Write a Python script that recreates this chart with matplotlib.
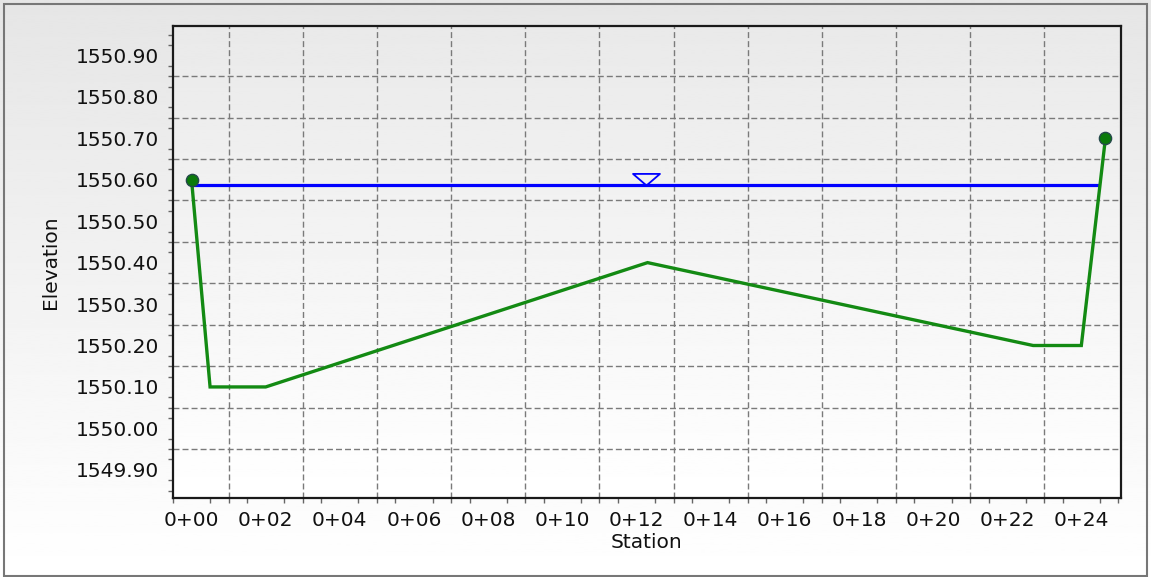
import numpy as np
import matplotlib
matplotlib.use('Agg')
import matplotlib.pyplot as plt
from matplotlib.path import Path
from matplotlib.patches import Rectangle

# cross section points (station, elevation)
station = [0.0, 0.5, 2.0, 12.3, 22.7, 24.0, 24.65]
elevation = [1550.60, 1550.10, 1550.10, 1550.40, 1550.20, 1550.20, 1550.70]
water_elev = 1550.587

x_tick_vals = list(range(0, 25, 2))
x_tick_labels = ['0+%02d' % v for v in x_tick_vals]
y_tick_vals = [1549.90 + 0.1 * i for i in range(11)]
y_tick_labels = ['%.2f' % v for v in y_tick_vals]


def water_edges(xs, ys, level):
    # stations where the water surface meets the section
    hits = []
    for i in range(len(xs) - 1):
        y0, y1 = ys[i], ys[i + 1]
        if (y0 - level) * (y1 - level) <= 0 and y0 != y1:
            t = (level - y0) / (y1 - y0)
            hits.append(xs[i] + t * (xs[i + 1] - xs[i]))
    return hits[0], hits[-1]


plt.rcParams['font.family'] = 'DejaVu Sans'
fig = plt.figure(figsize=(11.51, 5.77), dpi=100)

# gradient background for the whole window
bg = fig.add_axes([0, 0, 1, 1], zorder=-10)
grad = np.linspace(0.90, 1.0, 256).reshape(-1, 1)
bg.imshow(grad, cmap='gray', vmin=0, vmax=1, aspect='auto', extent=[0, 1, 0, 1], origin='upper')
bg.set_axis_off()
fig.patches.append(Rectangle((4 / 1151, 1 / 577), 1143 / 1151, 572 / 577, transform=fig.transFigure,
                             fill=False, edgecolor='#777777', linewidth=1.5))

ax = fig.add_axes([173 / 1151, 1 - 498 / 577, 948 / 1151, 472 / 577])
ax.set_facecolor('none')
ax.imshow(np.linspace(0.915, 1.0, 256).reshape(-1, 1), cmap='gray', vmin=0, vmax=1, aspect='auto',
          extent=[0, 1, 0, 1], origin='upper', transform=ax.transAxes, zorder=0)

ax.set_xlim(-0.5, 25.07)
ax.set_ylim(1549.832, 1550.971)

# dashed grid sits between the labelled values
for s in range(1, 24, 2):
    ax.axvline(s, color='#7a7a7a', lw=1, ls=(0, (4.3, 2.2)), zorder=1)
for e in np.arange(1549.95, 1550.86, 0.1):
    ax.axhline(e, color='#7a7a7a', lw=1, ls=(0, (4.3, 2.2)), zorder=1)

# water surface
left, right = water_edges(station, elevation, water_elev)
ax.plot([left, right], [water_elev, water_elev], color='#0000ff', lw=2.3, zorder=3,
        solid_capstyle='butt')
tri = Path([(-1, 0.86), (1, 0.86), (0, 0), (-1, 0.86)],
           [Path.MOVETO, Path.LINETO, Path.LINETO, Path.CLOSEPOLY])
ax.plot([(left + right) / 2], [water_elev], marker=tri, markersize=19.4, markerfacecolor='none',
        markeredgecolor='#0000ff', markeredgewidth=1.3, ls='none', zorder=4)

# ground line with bank points
ax.plot(station, elevation, color='#138a13', lw=2.4, zorder=5, solid_joinstyle='miter')
ax.plot([station[0], station[-1]], [elevation[0], elevation[-1]], 'o', markersize=8.8,
        markerfacecolor='#0b7a0b', markeredgecolor='#24484a', markeredgewidth=1.0, zorder=6)

ax.set_xticks(x_tick_vals)
ax.set_xticklabels(x_tick_labels)
ax.set_yticks(y_tick_vals)
ax.set_yticklabels(y_tick_labels)
x_minor = [v for v in np.arange(-0.5, 25.01, 0.5) if not (abs(v - round(v)) < 1e-6 and round(v) % 2 == 0)]
y_minor = [v for v in np.arange(1549.85, 1550.96, 0.025)
           if abs(v * 10 - round(v * 10)) > 1e-4]
ax.set_xticks(x_minor, minor=True)
ax.set_yticks(y_minor, minor=True)
ax.tick_params(which='major', length=0, labelsize=14.5, labelcolor='#111111')
ax.tick_params(axis='y', which='major', pad=10)
ax.tick_params(axis='x', which='major', pad=9)
ax.tick_params(which='minor', length=3.6, width=1, color='#666666', direction='out')

for sp in ax.spines.values():
    sp.set_color('#1a1a1a')
    sp.set_linewidth(1.6)
    sp.set_zorder(7)

ax.set_xlabel('Station', fontsize=14.5, color='#111111', va='top')
ax.xaxis.set_label_coords(0.5, -0.074)
ax.set_ylabel('Elevation', fontsize=14.5, color='#111111')
ax.yaxis.set_label_coords(-0.119, 0.5)

fig.savefig('out.png', dpi=100)
